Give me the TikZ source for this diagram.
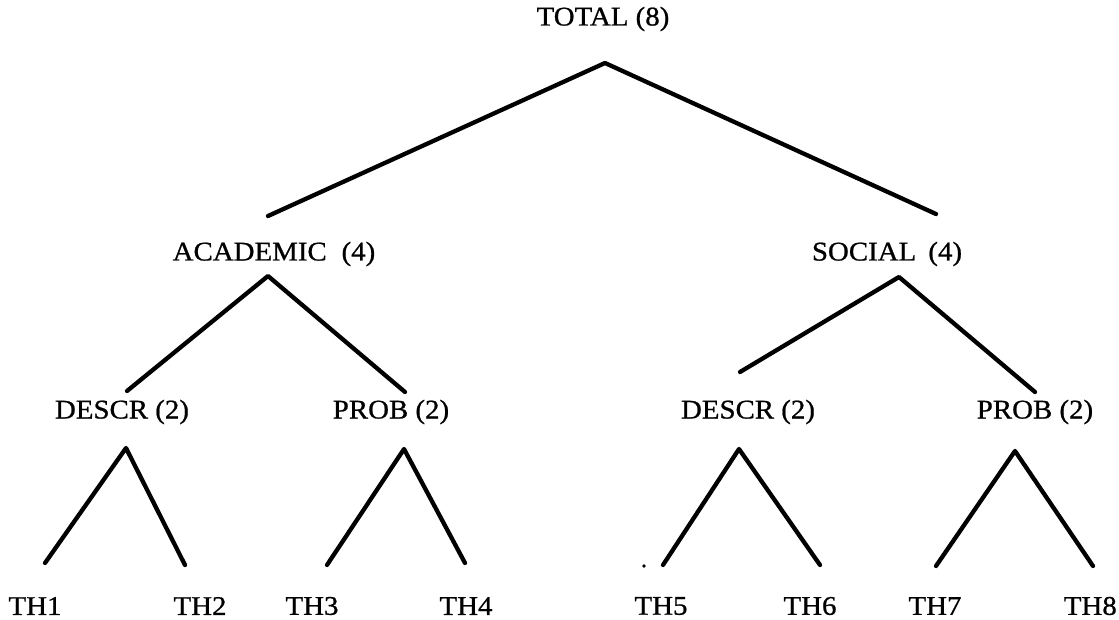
\documentclass[tikz,border=0pt]{standalone}
\usepackage{fontspec}
\setmainfont[FakeStretch=1.07,FakeBold=0.8]{Liberation Serif}
\begin{document}
\begin{tikzpicture}[x=1pt,y=-1pt,
  label/.style={inner sep=0pt, font=\fontsize{27}{31}\selectfont, anchor=center},
  branch/.style={line width=4.3pt, line cap=round, line join=round}]
\useasboundingbox (0,0) rectangle (1119,619);

% labels
\node[label] (total) at (603,19) {TOTAL (8)};
\node[label] (acad)  at (274,254) {ACADEMIC\hspace{0.55em}(4)};
\node[label] (soc)   at (887,254) {SOCIAL\hspace{0.45em}(4)};
\node[label] (dl)    at (122,412) {DESCR (2)};
\node[label] (pl)    at (391,412) {PROB (2)};
\node[label] (dr)    at (748,412) {DESCR (2)};
\node[label] (pr)    at (1035,412) {PROB (2)};
\node[label] (th1)   at (35,606) {TH1};
\node[label] (th2)   at (200,606) {TH2};
\node[label] (th3)   at (312,606) {TH3};
\node[label] (th4)   at (466,606) {TH4};
\node[label] (th5)   at (661,606) {TH5};
\node[label] (th6)   at (810,606) {TH6};
\node[label] (th7)   at (935,606) {TH7};
\node[label,anchor=east] (th8) at (1117,606) {TH8};

% apexes and branch ends
\coordinate (total-a) at (605,63);
\coordinate (total-l) at (268,216);
\coordinate (total-r) at (936,214);
\coordinate (acad-a)  at (268,276);
\coordinate (acad-l)  at (127,391);
\coordinate (acad-r)  at (405,392);
\coordinate (soc-a)   at (899,277);
\coordinate (soc-l)   at (740,372);
\coordinate (soc-r)   at (1035,392);
\coordinate (dl-a)    at (126,448);
\coordinate (dl-l)    at (45,563);
\coordinate (dl-r)    at (185,565);
\coordinate (pl-a)    at (404,449);
\coordinate (pl-l)    at (327,565);
\coordinate (pl-r)    at (465,563);
\coordinate (dr-a)    at (739,449);
\coordinate (dr-l)    at (663,565);
\coordinate (dr-r)    at (820,565);
\coordinate (pr-a)    at (1015,451);
\coordinate (pr-l)    at (936,566);
\coordinate (pr-r)    at (1093,566);

% branches
\draw[branch] (total-l) -- (total-a) -- (total-r);
\draw[branch] (acad-l) -- (acad-a) -- (acad-r);
\draw[branch] (soc-l) -- (soc-a) -- (soc-r);
\draw[branch] (dl-l) -- (dl-a) -- (dl-r);
\draw[branch] (pl-l) -- (pl-a) -- (pl-r);
\draw[branch] (dr-l) -- (dr-a) -- (dr-r);
\draw[branch] (pr-l) -- (pr-a) -- (pr-r);

% speck left of TH5
\fill (644,566) circle (1.8);
\end{tikzpicture}
\end{document}
